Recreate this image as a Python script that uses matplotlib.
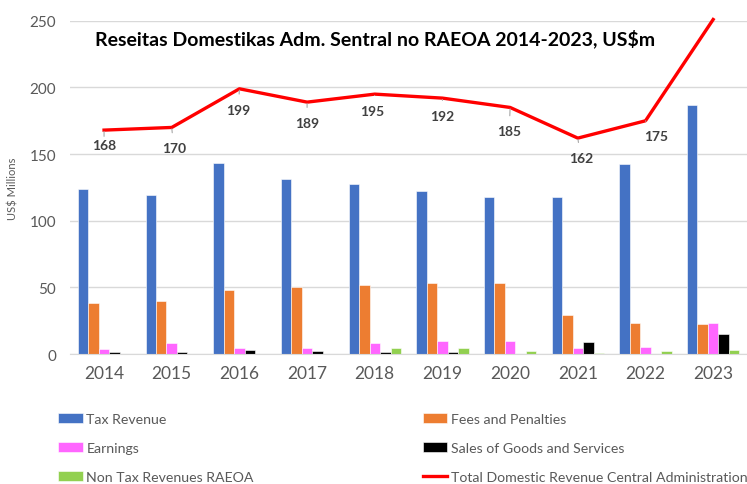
import matplotlib.pyplot as plt
import numpy as np

years = ["2014", "2015", "2016", "2017", "2018", "2019", "2020", "2021", "2022", "2023"]
tax_revenue = [124, 119.5, 143, 131.5, 127.5, 122, 117.5, 118, 142.5, 187]
fees_penalties = [38.5, 39.5, 48, 50, 52, 53, 53.5, 29.5, 23.5, 22.5]
earnings = [3.5, 8.5, 4.5, 4.5, 8.5, 9.5, 10, 4.5, 5, 23]
sales_goods = [1.5, 1.5, 2.7, 2.3, 1.2, 1.5, 0.3, 8.7, 0.2, 14.7]
non_tax_raeoa = [0, 0, 0, 0.3, 4.5, 4.3, 2.5, 0.8, 2.5, 3]
total_domestic = [168, 170, 199, 189, 195, 192, 185, 162, 175, 251]

# label offsets (pixels) for the total line labels
lbl_off = [(0, -15), (2, -21), (-1, -21), (0, -21), (-3, -17), (0, -18), (-1, -24), (3, -20), (11, -15), (10, -26)]

plt.rcParams['font.family'] = ['Lato', 'DejaVu Sans']

fig = plt.figure(figsize=(7.47, 4.85), dpi=100)
ax = fig.add_axes([0.094, 0.268, 0.906, 0.687])

x = np.arange(len(years))
w = 0.155
series = [
    (tax_revenue, "#4472C4", "Tax Revenue"),
    (fees_penalties, "#ED7D31", "Fees and Penalties"),
    (earnings, "#FF66FF", "Earnings"),
    (sales_goods, "#000000", "Sales of Goods and Services"),
    (non_tax_raeoa, "#92D050", "Non Tax Revenues RAEOA"),
]
handles = []
for i, (vals, col, name) in enumerate(series):
    b = ax.bar(x + (i - 2) * w, vals, w, color=col, label=name,
               edgecolor="white", linewidth=0.4, zorder=2)
    handles.append(b)

ln, = ax.plot(x, total_domestic, color="#FF0000", lw=2.4, zorder=3, clip_on=False,
              label="Total Domestic Revenue Central Administration")

for xi, v, off in zip(x, total_domestic, lbl_off):
    ax.annotate(str(v), (xi, v), xytext=off, textcoords="offset pixels",
                ha="center", va="center", fontsize=10, fontweight="bold", color="#404040",
                arrowprops=dict(arrowstyle="-", color="#A6A6A6", lw=0.8, shrinkA=5, shrinkB=1))

ax.set_xlim(-0.5, 9.5)
ax.set_ylim(0, 250)
ax.set_yticks([0, 50, 100, 150, 200, 250])
ax.set_xticks(x)
ax.set_xticklabels(years)
ax.tick_params(axis="x", labelsize=12.5, colors="#595959", length=0, pad=8)
ax.tick_params(axis="y", labelsize=11, colors="#595959", length=0, pad=10)
ax.grid(axis="y", color="#D9D9D9", lw=1, zorder=0)
for s in ["top", "right", "left"]:
    ax.spines[s].set_visible(False)
ax.spines["bottom"].set_color("#D9D9D9")
ax.set_axisbelow(True)

ax.set_ylabel("US$ Millions", fontsize=8, color="#595959", labelpad=8)

ax.text(0.45, 0.95, "Reseitas Domestikas Adm. Sentral no RAEOA 2014-2023, US$m",
        transform=ax.transAxes, ha="center", va="center", fontsize=14,
        fontweight="bold", color="black")

# legend is filled column-wise, so order it to read row-wise like the original
leg_items = [handles[0], handles[2], handles[4], handles[1], handles[3], ln]
fig.legend(leg_items, [h.get_label() for h in leg_items], ncol=2,
           loc="upper left", bbox_to_anchor=(0.06, 0.172), frameon=False,
           fontsize=10.2, labelcolor="#595959", columnspacing=11.9,
           handlelength=1.76, handletextpad=0.28, labelspacing=1.2)

fig.savefig("out.png", dpi=100)
